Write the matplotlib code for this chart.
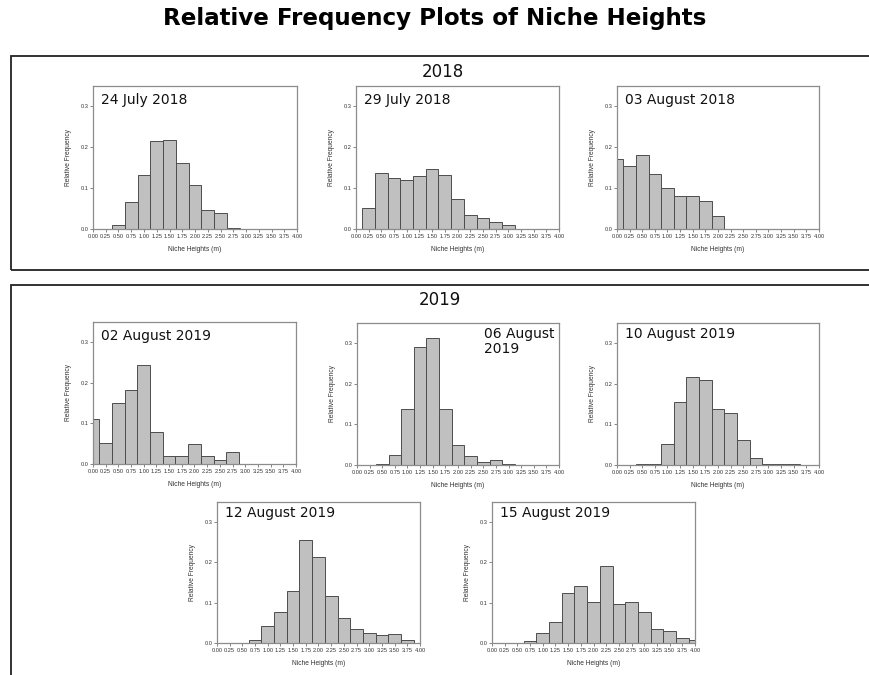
import matplotlib
matplotlib.use("Agg")
import matplotlib.pyplot as plt
from matplotlib.patches import Rectangle

# Bin centres (m); each bar covers +/- 0.125 m around its centre
bin_centres = [0.00, 0.25, 0.50, 0.75, 1.00, 1.25, 1.50, 1.75, 2.00,
               2.25, 2.50, 2.75, 3.00, 3.25, 3.50, 3.75, 4.00]
x_tick_labels = ["0.00", "0.25", "0.50", "0.75", "1.00", "1.25", "1.50", "1.75",
                 "2.00", "2.25", "2.50", "2.75", "3.00", "3.25", "3.50", "3.75", "4.00"]
y_tick_labels = ["0.0", "0.1", "0.2", "0.3"]

# Relative frequencies per survey date (aligned with bin_centres)
jul24_2018 = [0.000, 0.000, 0.011, 0.067, 0.132, 0.215, 0.218, 0.161, 0.107,
              0.046, 0.039, 0.003, 0.000, 0.000, 0.000, 0.000, 0.000]
jul29_2018 = [0.000, 0.052, 0.136, 0.124, 0.120, 0.129, 0.146, 0.133, 0.073,
              0.034, 0.028, 0.018, 0.011, 0.000, 0.000, 0.000, 0.000]
aug03_2018 = [0.172, 0.153, 0.180, 0.134, 0.100, 0.080, 0.080, 0.068, 0.031,
              0.000, 0.000, 0.000, 0.000, 0.000, 0.000, 0.000, 0.000]
aug02_2019 = [0.112, 0.051, 0.151, 0.182, 0.243, 0.080, 0.020, 0.020, 0.050,
              0.020, 0.011, 0.030, 0.000, 0.000, 0.000, 0.000, 0.000]
aug06_2019 = [0.000, 0.000, 0.002, 0.025, 0.139, 0.292, 0.312, 0.139, 0.049,
              0.021, 0.007, 0.012, 0.002, 0.000, 0.000, 0.000, 0.000]
aug10_2019 = [0.000, 0.000, 0.002, 0.002, 0.052, 0.155, 0.218, 0.210, 0.138,
              0.127, 0.062, 0.017, 0.002, 0.002, 0.002, 0.000, 0.000]
aug12_2019 = [0.000, 0.000, 0.000, 0.007, 0.042, 0.076, 0.128, 0.255, 0.214,
              0.116, 0.061, 0.034, 0.026, 0.020, 0.022, 0.007, 0.000]
aug15_2019 = [0.000, 0.000, 0.000, 0.004, 0.026, 0.051, 0.125, 0.141, 0.102,
              0.191, 0.098, 0.102, 0.077, 0.034, 0.029, 0.012, 0.007]

date_labels = ["24 July 2018", "29 July 2018", "03 August 2018",
               "02 August 2019", "06 August\n2019", "10 August 2019",
               "12 August 2019", "15 August 2019"]
series = [jul24_2018, jul29_2018, aug03_2018, aug02_2019,
          aug06_2019, aug10_2019, aug12_2019, aug15_2019]

W, H = 870, 675
fig = plt.figure(figsize=(W / 100, H / 100), dpi=100)
fig.patch.set_facecolor("white")


def fig_rect(left, top, right, bottom):
    """Pixel box (origin top-left) -> figure fraction [l, b, w, h]."""
    return [left / W, 1 - bottom / H, (right - left) / W, (bottom - top) / H]


# Axes boxes in pixels: left, top, right, bottom
panel_boxes = [
    (93, 86, 297, 229), (356, 86, 559, 229), (617, 86, 819, 229),
    (93, 322, 296, 464), (357, 323, 559, 465), (617, 323, 819, 465),
    (217, 502, 420, 643), (492, 502, 695, 643),
]
label_pos = [(0.04, 0.95)] * 4 + [(0.63, 0.97)] + [(0.04, 0.97)] * 3

# Section frames
frame_kw = dict(transform=fig.transFigure, fill=False, edgecolor="#222222",
                linewidth=1.3, clip_on=False)
fig.patches.append(Rectangle((11 / W, 1 - 270 / H), 900 / W, 214 / H, **frame_kw))
fig.patches.append(Rectangle((11 / W, -0.05), 900 / W, 1 - 285 / H + 0.05, **frame_kw))

fig.text(0.5, 1 - 19 / H, "Relative Frequency Plots of Niche Heights",
         ha="center", va="center", fontsize=16.6, fontweight="bold",
         family="DejaVu Sans", color="#000000")
fig.text(443 / W, 1 - 72 / H, "2018", ha="center", va="center",
         fontsize=12, family="DejaVu Sans", color="#111111")
fig.text(440 / W, 1 - 300 / H, "2019", ha="center", va="center",
         fontsize=12, family="DejaVu Sans", color="#111111")

small_font = "Liberation Sans"

for box, vals, label, lp in zip(panel_boxes, series, date_labels, label_pos):
    l, t, r, b = box
    ax = fig.add_axes(fig_rect(l, t, r, b))
    ax.bar(bin_centres, vals, width=0.25, align="center", color="#c0c0c0",
           edgecolor="#4d4d4d", linewidth=0.7)
    ax.set_xlim(0, 4)
    ax.set_ylim(0, 0.35)
    ax.set_xticks(bin_centres)
    ax.set_xticklabels(x_tick_labels, fontsize=4.1, family=small_font, color="#333333")
    ax.set_yticks([0.0, 0.1, 0.2, 0.3])
    ax.set_yticklabels(y_tick_labels, fontsize=4.1, family=small_font, color="#333333")
    ax.tick_params(length=2, width=0.5, pad=1.5, color="#555555")
    for s in ax.spines.values():
        s.set_color("#8c8c8c")
        s.set_linewidth(0.9)
    ax.set_xlabel("Niche Heights (m)", fontsize=4.8, family=small_font,
                  color="#333333", labelpad=5)
    ax.set_ylabel("Relative Frequency", fontsize=4.8, family=small_font,
                  color="#333333", labelpad=6)
    ax.text(lp[0], lp[1], label, transform=ax.transAxes, ha="left", va="top",
            fontsize=10, family="DejaVu Sans", color="#111111", linespacing=1.05)

fig.savefig("out.png", dpi=100, facecolor="white")
